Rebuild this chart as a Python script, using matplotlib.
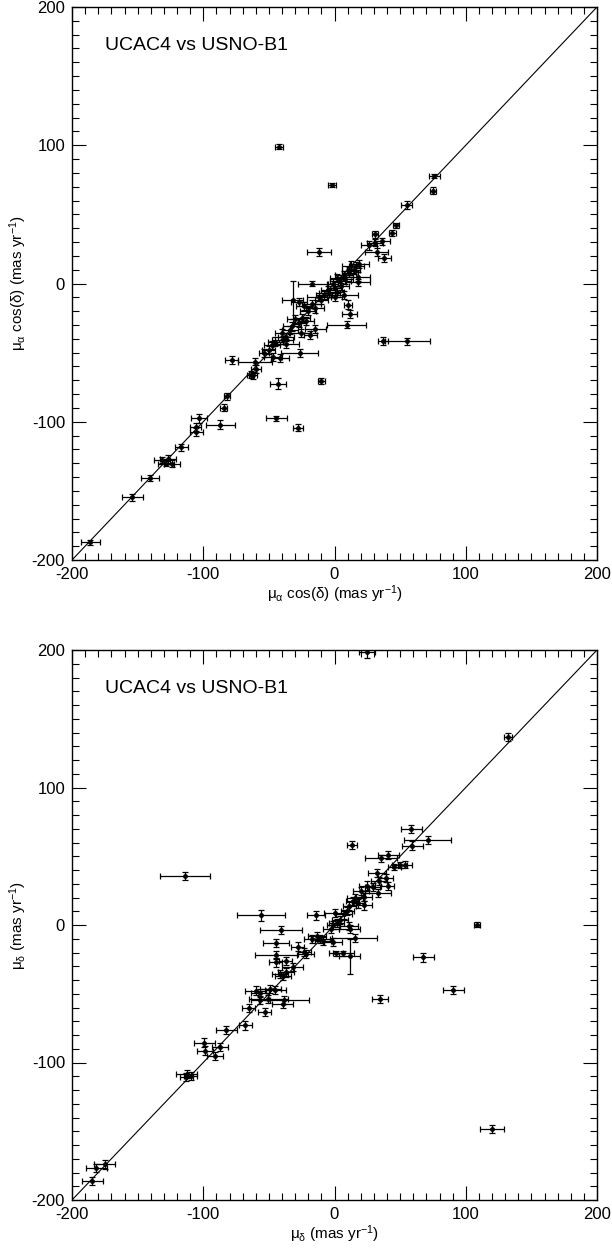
import matplotlib
matplotlib.use("Agg")
import matplotlib.pyplot as plt
from matplotlib.ticker import MultipleLocator
import numpy as np

plt.rcParams['font.family'] = ['Liberation Sans', 'DejaVu Sans']
plt.rcParams['mathtext.fontset'] = 'custom'
plt.rcParams['mathtext.rm'] = 'Liberation Sans'
plt.rcParams['mathtext.it'] = 'Liberation Sans'
plt.rcParams['mathtext.bf'] = 'Liberation Sans:bold'
plt.rcParams['axes.unicode_minus'] = False

# proper motion in RA: UCAC4 (x) vs USNO-B1 (y), with errors
pmra_ucac = [-42, -2, 76, 75, 55, 47, 44, 31, 36, 31, 26, 32, 38, -12, 12.6, 16.7, 19, 14.8, 11,
             4.4, 8, 18, -17, -1, 1.6, 7, 11, 18, -32, -27, -23, -17.5, -12, -8, -4, 1.6, 7, 0,
             10.4, 11.5, 9.3, 37, 55.6, -24.4, -21.6, -27, -32.6, -34, -14.8, -18.4, -25.8, -36.7,
             -39.5, -45, -47.7, -37.3, -26.6, -53.7, -47, -41.6, -78.4, -60.8, -60, -64, -62, -43.3,
             -10, -82, -84.4, -103.3, -105.8, -105.2, -87.1, -44.4, -27.9, -116.7, -131.2, -126.6,
             -128.5, -123.8, -140.8, -154, -186, -20, -15, -10, -30, -5, 0, 5, -40, -50]
pmra_usno = [99, 71, 78, 67, 57, 42, 36.5, 35.5, 30.5, 29.5, 27.5, 23, 18.5, 23, 13, 12.3, 14, 10, 9,
             1.7, 3, 1, 0, 0, 4, 6, 7.7, 5, -12, -13.5, -16.5, -14.7, -10, -8.5, -7, -6.5, -8.5, -10,
             -15.2, -22, -29.8, -41.8, -41.8, -24.8, -27, -28.5, -31, -33.5, -33, -37, -36, -38.5,
             -41, -42, -44.7, -43.5, -50.5, -50.2, -53, -54, -55.5, -56.5, -62, -66, -66.5, -72.5,
             -70.5, -81.5, -90, -97.6, -103.9, -107.3, -102, -97.6, -104.4, -118.4, -127.8, -126.9,
             -130.3, -130.5, -140.7, -154.7, -187.2, -20, -18, -12, -26, -5, -3, -2, -36, -48]
pmra_xerr = [3, 3, 4, 2.5, 4, 2.5, 2.5, 2.5, 6, 6, 6, 9, 5, 9, 7, 6, 7, 5, 5,
             8, 6, 9, 11, 4, 5, 7, 5, 9, 8, 6, 6, 7, 9, 6, 8, 6, 11, 6,
             3, 6, 15, 3.5, 17, 6, 6, 5, 7, 6, 8, 5, 8, 6,
             8, 6, 6, 10, 14, 4, 7, 7, 5, 13, 4, 3, 3, 6,
             2.5, 2.5, 2.5, 6, 4, 5, 11, 8, 4, 5, 6, 6,
             6, 6, 7, 8, 7, 6, 7, 5, 6, 5, 6, 6, 5, 5]
pmra_yerr = [2, 1.5, 1.5, 2.5, 3, 2, 2.5, 2.5, 2.5, 2.5, 3, 3, 3, 3, 3, 3, 3, 3, 3,
             3, 3, 2.5, 2, 3, 3, 3, 3, 3, 14, 3, 3, 3, 3, 3, 3, 3, 3, 3,
             3, 3, 2.5, 3, 2.5, 3, 3, 3, 3, 3, 3, 3, 3, 3,
             3, 3, 3, 3, 3, 3, 3, 3, 3, 2.5, 3, 2.5, 2.5, 4,
             2, 2.5, 2.5, 3, 3, 3, 3, 2, 2.5, 2.5, 2, 3,
             2, 2.5, 2.5, 2.5, 2, 3, 3, 3, 3, 3, 3, 2.5, 3, 3]

# proper motion in Dec
pmde_ucac = [25, 132, -114, 58.4, 71, 59.2, 13.2, 40.8, 35.6, 49.6, 53.7, 45.5, 32.3, 38.9, 34, 25,
             29, 33.2, 40.5, 20, 22.2, 15.9, 18, 11.2, 14, 22.2, 9.9, 7.1, 0.3, -56, -14.2, 108.5,
             -40.8, -44.7, -28, -23, -21.6, -44.9, -44.9, -37.3, -31.8, -41.6, -39.5, -36.7, -60,
             -57, -49, -45, -56.4, -50.4, -38.4, -39.5, -53.2, -65.5, -67.9, -82.5, -99.2, -98.9,
             -87.4, -91, -1, 1.6, 4.4, -2.5, 11.2, 11.5, 15.3, -10.7, -13.4, -8.8, -1, -17.5, 1.1,
             6.6, 11.8, 67.7, 34.5, 90.4, -112.5, -109.6, -113, 120, -175, -181.5, -184.5]
pmde_usno = [198.5, 137, 35.4, 70, 61.7, 57.8, 58, 50.8, 48.4, 43.6, 44, 42.2, 38, 34, 31.8, 28.7,
             27.7, 23.4, 28.2, 24.6, 20.5, 19.8, 15.7, 13.7, 17.3, 14.2, 10, 7.7, 9, 7, 7, 0.2,
             -3.4, -13.3, -15.7, -19.5, -21.2, -21.9, -27.2, -26, -30.8, -35.7, -36.9, -34.5, -47.7,
             -49.4, -46.5, -47, -54.5, -53.7, -54.7, -57.6, -63.4, -60.5, -73, -76.1, -85.5, -91.3,
             -88.7, -95.4, 0, 1.7, 3.6, -3, -0.7, -2.7, -9.6, -10.4, -8, -11.6, -12.3, -10.4, -20.7,
             -20.7, -22.9, -23.6, -53.7, -47, -108.2, -110, -110.7, -148.2, -174.1, -176.5, -186.2]
pmde_xerr = [6, 3, 19, 8, 18, 8, 4, 8, 12, 6, 5, 5, 7, 6, 6, 6,
             6, 10, 5, 6, 6, 6, 5, 5, 5, 6, 5, 6, 8, 18, 7, 2.5,
             16, 10, 5, 5, 6, 16, 5, 5, 8, 6, 6, 6, 8,
             7, 8, 8, 7, 15, 19, 8, 5, 5, 5, 8, 8, 6,
             6, 6, 5, 6, 6, 6, 7, 8, 17, 7, 7, 6, 7, 6, 5,
             8, 8, 8, 6, 8, 8, 5, 5, 9, 8, 8, 8]
pmde_yerr = [4, 3, 3, 3, 3, 3, 3, 3, 2.5, 2.5, 2.5, 2.5, 3, 3, 3, 3,
             3, 3, 3, 3, 3, 3, 3, 3, 3, 3, 3, 3, 3, 4, 3, 2,
             3, 3, 3, 3, 3, 3, 3, 3, 3, 3, 3, 3, 3,
             3, 3, 3, 3, 3, 3, 3, 3, 3, 3, 3, 3, 3,
             3, 3, 3, 3, 3, 3, 3, 3, 3, 3, 3, 3, 3, 3, 2,
             2, 13, 3, 3, 3, 3, 3, 3, 3, 3, 3, 3]

lims = [-200, 200]


def panel(ax, x, y, xe, ye, xlab, ylab):
    ax.errorbar(x, y, xerr=xe, yerr=ye, fmt='o', color='black', ms=2.5,
                elinewidth=0.9, capsize=2.5, capthick=0.9, ecolor='black')
    ax.plot(lims, lims, color='black', lw=0.8)
    ax.set_xlim(lims)
    ax.set_ylim(lims)
    ax.xaxis.set_major_locator(MultipleLocator(100))
    ax.yaxis.set_major_locator(MultipleLocator(100))
    ax.xaxis.set_minor_locator(MultipleLocator(10))
    ax.yaxis.set_minor_locator(MultipleLocator(10))
    ax.tick_params(which='both', direction='in', top=True, right=True, labelsize=12, width=0.8)
    ax.tick_params(which='major', length=10, pad=5)
    ax.tick_params(which='minor', length=5)
    for s in ax.spines.values():
        s.set_linewidth(1.0)
    ax.set_xlabel(xlab, fontsize=11, labelpad=1)
    ax.set_ylabel(ylab, fontsize=11, labelpad=2)
    ax.text(0.063, 0.93, 'UCAC4 vs USNO-B1', transform=ax.transAxes, fontsize=14,
            va='center', ha='left')


fig = plt.figure(figsize=(6.12, 12.53), dpi=100)
W, H = 612.0, 1253.0
ax1 = fig.add_axes([72 / W, 1 - 560 / H, 525 / W, 553 / H])
ax2 = fig.add_axes([72 / W, 1 - 1200 / H, 525 / W, 550 / H])

panel(ax1, pmra_ucac, pmra_usno, pmra_xerr, pmra_yerr,
      r'$\mu_{\alpha}$ cos($\delta$) (mas yr$^{-1}$)',
      r'$\mu_{\alpha}$ cos($\delta$) (mas yr$^{-1}$)')
panel(ax2, pmde_ucac, pmde_usno, pmde_xerr, pmde_yerr,
      r'$\mu_{\delta}$ (mas yr$^{-1}$)',
      r'$\mu_{\delta}$ (mas yr$^{-1}$)')

fig.savefig('out.png', dpi=100)
